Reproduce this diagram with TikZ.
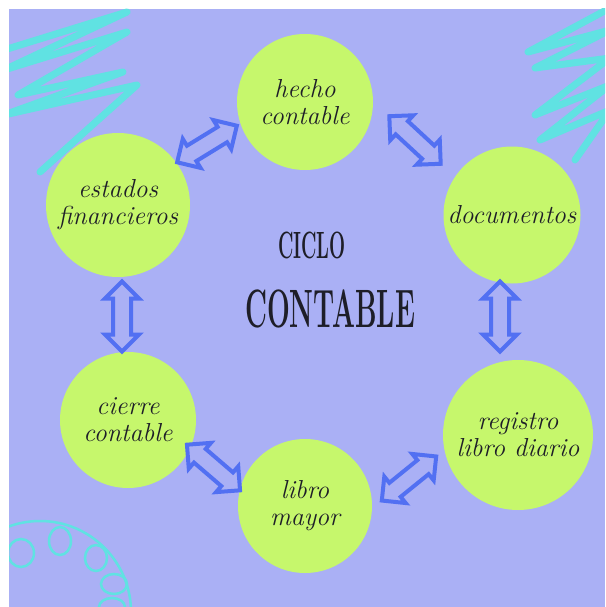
\documentclass[tikz,border=0pt]{standalone}
\usepackage{fontspec}
\usepackage{graphicx}
\usetikzlibrary{shapes.arrows}
\definecolor{lav}{RGB}{170,176,245}
\definecolor{grn}{RGB}{198,247,108}
\definecolor{tealc}{RGB}{96,226,226}
\definecolor{arr}{RGB}{82,112,242}
\definecolor{ink}{RGB}{30,30,40}
\begin{document}
\begin{tikzpicture}[x=1pt,y=-1pt,
  stage/.style={circle, fill=grn, inner sep=0pt, align=center, text=ink,
    font=\fontsize{26}{27}\selectfont\itshape},
  dbl/.style={double arrow, draw=arr, fill=lav, line width=4pt,
    minimum height=70pt, minimum width=28pt, double arrow head extend=8pt,
    inner sep=7pt, sloped},
  scrib/.style={draw=tealc, line width=7pt, line cap=round, line join=round},
  loopy/.style={draw=tealc, line width=2.5pt},
  title/.style={text=ink, inner sep=0pt}]
\useasboundingbox (0,0) rectangle (605,607);
\fill[white] (0,0) rectangle (605,607);
\fill[lav] (9,9) rectangle (605,607);
\begin{scope}
\clip (9,9) rectangle (605,607);
% top-left scribble
\draw[scrib] (4,50) -- (127,12) -- (4,70) -- (127,32) -- (18,95) -- (123,72)
  -- (4,115) -- (137,85) -- (40,172);
% top-right scribble
\draw[scrib] (610,8) -- (528,52) -- (610,30) -- (535,68) -- (610,58)
  -- (535,115) -- (610,85) -- (540,140) -- (610,110) -- (575,160);
% bottom-left loops
\draw[loopy] (40,612) circle[radius=91];
\draw[loopy] (60,541) ellipse[x radius=11, y radius=14];
\draw[loopy] (96,558) ellipse[x radius=11, y radius=13];
\draw[loopy] (114,584) ellipse[x radius=13, y radius=10];
\draw[loopy] (112,607) ellipse[x radius=13, y radius=9];
\draw[loopy] (21,553) ellipse[x radius=13, y radius=14];
\end{scope}
% stages
\node[stage, minimum size=136pt] (hecho) at (305,102) {hecho\\contable};
\node[stage, minimum size=137pt] (docs) at (512,215) {documentos};
\node[stage, minimum size=150pt] (reg) at (518,435) {registro\\libro diario};
\node[stage, minimum size=134pt] (mayor) at (305,506) {libro\\mayor};
\node[stage, minimum size=136pt] (cierre) at (128,420) {cierre\\contable};
\node[stage, minimum size=144pt] (estados) at (118,205) {estados\\financieros};
% title
\node[title] (ciclo) at (312,245) {\scalebox{0.5}[1]{\fontsize{38}{38}\selectfont\bfseries CICLO}};
\node[title] (contab) at (330,309) {\scalebox{0.5}[1]{\fontsize{54}{54}\selectfont\bfseries CONTABLE}};
% arrows
\coordinate (a1s) at (176,163); \coordinate (a1e) at (238,125);
\coordinate (a5s) at (388,115); \coordinate (a5e) at (442,165);
\coordinate (a2s) at (500,280); \coordinate (a2e) at (500,353);
\coordinate (a3s) at (438,455); \coordinate (a3e) at (380,502);
\coordinate (a4s) at (242,492); \coordinate (a4e) at (185,443);
\coordinate (a6s) at (122,353); \coordinate (a6e) at (122,280);
\path (a1s) -- (a1e) node[dbl, midway] {};
\path (a5s) -- (a5e) node[dbl, midway] {};
\path (a2s) -- (a2e) node[dbl, midway] {};
\path (a3s) -- (a3e) node[dbl, midway] {};
\path (a4s) -- (a4e) node[dbl, midway] {};
\path (a6s) -- (a6e) node[dbl, midway] {};
\end{tikzpicture}
\end{document}
